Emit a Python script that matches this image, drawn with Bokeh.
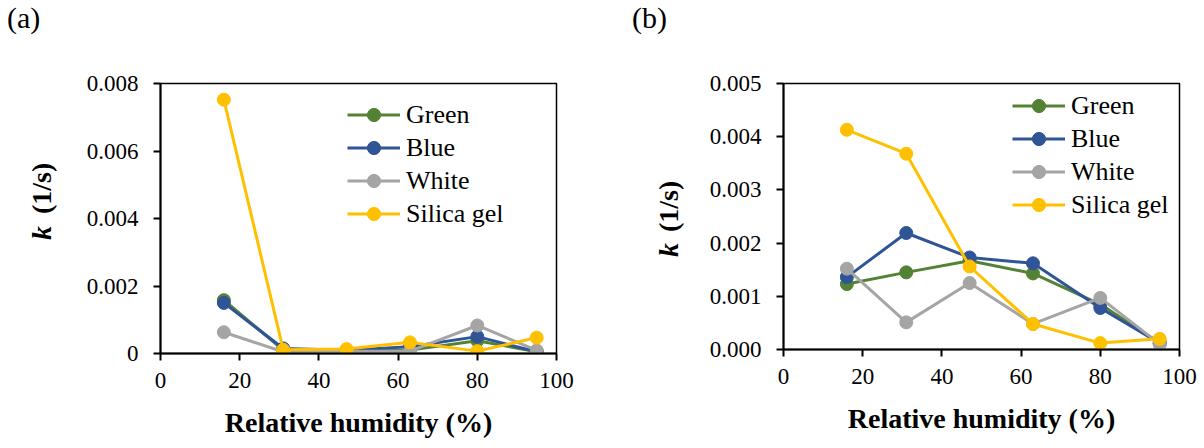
from bokeh.plotting import figure
from bokeh.models import Range1d, FixedTicker, Legend, LegendItem, Div
from bokeh.layouts import row
from bokeh.embed import file_html
from bokeh.resources import INLINE

FONT = "Liberation Serif"

# ---- data ----
rh = [16, 31, 47, 63, 80, 95]
series_names = ["Green", "Blue", "White", "Silica gel"]
series_colors = ["#548235", "#2F5597", "#A5A5A5", "#FFC000"]

green_a = [0.00158, 0.00010, 0.00008, 0.00010, 0.00038, 0.00005]
blue_a = [0.00150, 0.00015, 0.00010, 0.00020, 0.00050, 0.00005]
white_a = [0.00063, 0.00005, 0.00007, 0.00007, 0.00083, 0.00009]
silica_a = [0.00752, 0.00011, 0.00013, 0.00033, 0.00007, 0.00047]

green_b = [0.00123, 0.00145, 0.00167, 0.00143, 0.00085, 0.00012]
blue_b = [0.00136, 0.00219, 0.00173, 0.00162, 0.00078, 0.00012]
white_b = [0.00152, 0.00051, 0.00125, 0.00048, 0.00097, 0.00010]
silica_b = [0.00413, 0.00368, 0.00156, 0.00048, 0.00012, 0.00020]

x_ticks = [0, 20, 40, 60, 80, 100]
x_tick_labels = ["0", "20", "40", "60", "80", "100"]
y_ticks_a = [0.0, 0.002, 0.004, 0.006, 0.008]
y_tick_labels_a = ["0", "0.002", "0.004", "0.006", "0.008"]
y_ticks_b = [0.0, 0.001, 0.002, 0.003, 0.004, 0.005]
y_tick_labels_b = ["0.000", "0.001", "0.002", "0.003", "0.004", "0.005"]

x_title = "Relative humidity (%)"
y_title_k = "k"
y_title_rest = "(1/s)"

H = 448


def make_side_text(tag, width, base_x, k_start, paren_start, tag_x, tag_base):
    """Panel tag and rotated y-axis title (italic k), laid out with CSS."""
    html = (
        f'<div style="position:relative;width:{width}px;height:{H}px;'
        f'font-family:\'{FONT}\',serif;color:black;">'
        f'<span style="position:absolute;left:{tag_x}px;top:{tag_base - 25.1:.1f}px;'
        f'font-size:30px;line-height:30px;white-space:nowrap;">{tag}</span>'
        f'<span style="position:absolute;left:{base_x - 23.4:.1f}px;top:{k_start}px;'
        f'font-size:28px;line-height:28px;font-weight:bold;font-style:italic;white-space:nowrap;'
        f'transform-origin:0 0;transform:rotate(-90deg);">{y_title_k}</span>'
        f'<span style="position:absolute;left:{base_x - 23.4:.1f}px;top:{paren_start}px;'
        f'font-size:28px;line-height:28px;font-weight:bold;white-space:nowrap;'
        f'transform-origin:0 0;transform:rotate(-90deg);">{y_title_rest}</span>'
        '</div>'
    )
    return Div(text=html, width=width, height=H, margin=(0, 0, 0, 0))


def make_panel(series, y_ticks, y_labels, width, bl, br, bt, bb, legend_xy):
    p = figure(width=width, height=H, output_backend="svg", toolbar_location=None,
               x_range=Range1d(x_ticks[0], x_ticks[-1]),
               y_range=Range1d(y_ticks[0], y_ticks[-1]),
               min_border_left=bl, min_border_right=br,
               min_border_top=bt, min_border_bottom=bb)
    p.background_fill_color = "white"
    p.border_fill_color = "white"
    p.outline_line_color = "black"
    p.outline_line_width = 1.5
    p.xgrid.visible = False
    p.ygrid.visible = False

    for ax, ticks, labels in ((p.xaxis[0], x_ticks, x_tick_labels),
                              (p.yaxis[0], y_ticks, y_labels)):
        ax.ticker = FixedTicker(ticks=ticks)
        ax.major_label_overrides = {t: l for t, l in zip(ticks, labels)}
        ax.minor_tick_line_color = None
        ax.major_tick_in = 0
        ax.major_tick_out = 7
        ax.major_tick_line_width = 2
        ax.axis_line_width = 2
        ax.axis_line_color = "black"
        ax.major_tick_line_color = "black"
        ax.major_label_text_font = FONT
        ax.major_label_text_font_size = "23px"
        ax.major_label_text_color = "black"
    p.xaxis.major_label_standoff = 12
    p.yaxis.major_label_standoff = 15

    p.xaxis.axis_label = x_title
    p.xaxis.axis_label_text_font = FONT
    p.xaxis.axis_label_text_font_size = "28px"
    p.xaxis.axis_label_text_font_style = "bold"
    p.xaxis.axis_label_text_color = "black"
    p.xaxis.axis_label_standoff = 16

    items = []
    for name, color, ys in zip(series_names, series_colors, series):
        lr = p.line(rh, ys, line_color=color, line_width=3)
        sr = p.scatter(rh, ys, size=13, fill_color=color, line_color=color)
        items.append(LegendItem(label=name, renderers=[lr, sr]))

    leg = Legend(items=items, location=legend_xy)
    leg.label_text_font = FONT
    leg.label_text_font_size = "26px"
    leg.label_text_color = "black"
    leg.glyph_width = 53
    leg.glyph_height = 33
    leg.label_standoff = 6
    leg.spacing = 0
    leg.padding = 0
    leg.margin = 0
    leg.border_line_alpha = 0
    leg.background_fill_alpha = 0
    p.add_layout(leg, "center")
    return p


side_a = make_side_text("(a)", 70, 51, 240, 214, 7, 28)
pa = make_panel([green_a, blue_a, white_a, silica_a], y_ticks_a, y_tick_labels_a,
                530, 90, 44, 83, 95, (187, 123))
side_b = make_side_text("(b)", 90, 78, 257, 232, 32, 28)
pb = make_panel([green_b, blue_b, white_b, silica_b], y_ticks_b, y_tick_labels_b,
                514, 93, 25, 83, 99, (229, 128))

layout = row(row(side_a, pa), row(side_b, pb))
open("out.html", "w").write(file_html(layout, INLINE))
